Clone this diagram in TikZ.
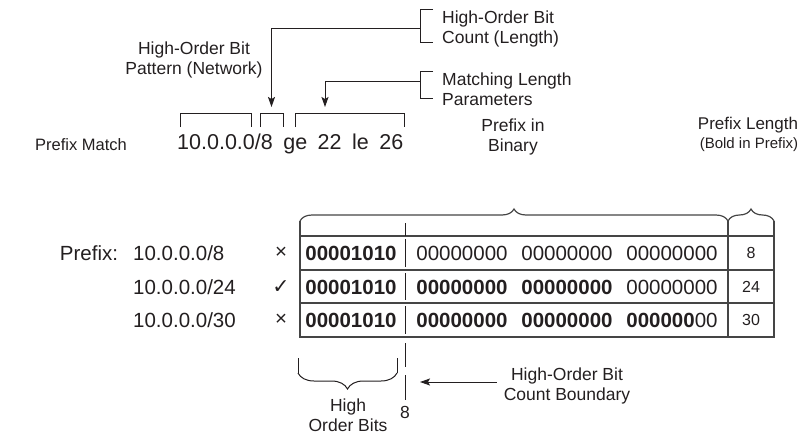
\documentclass[tikz,border=0pt]{standalone}
\usepackage{fontspec}
\setmainfont{Liberation Sans}
\newfontfamily\symfont{DejaVu Sans}
\usetikzlibrary{arrows.meta, decorations.pathreplacing}
\definecolor{ink}{HTML}{231F20}
\definecolor{rule}{HTML}{454545}
\newcommand\nomatch{×}
\newcommand\okmatch{{\symfont ✓}}
\newcommand\wsp{\hspace{10.5pt}}

\begin{document}
\begin{tikzpicture}[x=1pt, y=-1pt,
    every node/.style={inner sep=0pt, text=ink},
    lbl/.style={font=\fontsize{17.5}{20.5}\selectfont, align=center},
    big/.style={font=\fontsize{21.5}{24}\selectfont},
    bits/.style={font=\fontsize{20.5}{24}\selectfont},
    bitsb/.style={font=\fontsize{20.5}{24}\selectfont\bfseries},
    small/.style={font=\fontsize{16}{19}\selectfont},
    wire/.style={draw=ink, line width=1pt},
    arr/.style={wire, -{Stealth[length=10pt, width=7pt, inset=2pt]}},
    grid/.style={draw=rule, line width=1.2pt},
    tbrace/.style={grid, decorate, decoration={brace, amplitude=12pt}},
  ]
  \useasboundingbox (0,0) rectangle (806,436);

  % prefix-list entry and its parts
  \node[lbl, font=\fontsize{16.5}{20}\selectfont, anchor=west] (pmatch) at (35,145) {Prefix Match};
  \node[big, anchor=base west] (entry) at (177,149.5) {10.0.0.0/8\wsp ge\wsp 22\wsp le\wsp 26};
  \draw[wire] (180,127) |- (251,113) -- (251,127);
  \draw[wire] (260,127) |- (283,113) -- (283,127);
  \draw[wire] (295,127) |- (404,113) -- (404,127);
  \coordinate (lentip) at (271.5,107);
  \coordinate (getip) at (325,107);

  \node[lbl] (pattern) at (194,60) {High-Order Bit\\Pattern (Network)};
  \node[lbl, align=left, anchor=west] (hobcount) at (442,29) {High-Order Bit\\Count (Length)};
  \node[lbl, align=left, anchor=west] (matchlen) at (442,89) {Matching Length\\Parameters};
  \draw[wire] (433,10) -| (420,43) -- (433,43);
  \draw[wire] (433,72) -| (420,98) -- (433,98);
  \coordinate (cntbr) at (420,29);
  \coordinate (lenbr) at (420,82);
  \draw[arr] (cntbr) -| (lentip);
  \draw[arr] (lenbr) -| (getip);

  % table
  \node[lbl] (binlbl) at (513,137) {Prefix in\\Binary};
  \node[lbl, font=\fontsize{17}{20}\selectfont] (lenlbl) at (748,125) {Prefix Length};
  \node[small, font=\fontsize{15}{18}\selectfont] (boldlbl) at (749,145) {(Bold in Prefix)};
  \draw[tbrace] (300,221) -- (728,221);
  \draw[tbrace] (728,221) -- (774,221);
  \draw[grid] (300,221) -- (300,337) -- (774,337) -- (774,221);
  \draw[grid] (728,221) -- (728,337);
  \foreach \y in {236,270,303}
    \draw[grid] (300,\y) -- (774,\y);
  \foreach \a/\b in {223/236, 239/267, 273/300, 306/334, 343/367, 375/400}
    \draw[wire] (405,\a) -- (405,\b);

  \node[bits] (pfx) at (89,253) {Prefix:};
  \foreach \y/\len/\mk/\n in {253/8/\nomatch/1, 287/24/\okmatch/2, 320/30/\nomatch/3} {
    \node[bits, anchor=west] (net\n) at (133,\y) {10.0.0.0/\len};
    \node[bits] (mark\n) at (281,\y) {\mk};
    \node[bitsb] (hi\n) at (351,\y) {00001010};
    \node[small] (len\n) at (751,\y) {\len};
  }
  \node[bits] (b1a) at (462,253) {00000000};
  \node[bits] (b1b) at (567,253) {00000000};
  \node[bits] (b1c) at (672,253) {00000000};
  \node[bitsb] (b2a) at (462,287) {00000000};
  \node[bitsb] (b2b) at (567,287) {00000000};
  \node[bits] (b2c) at (672,287) {00000000};
  \node[bitsb] (b3a) at (462,320) {00000000};
  \node[bitsb] (b3b) at (567,320) {00000000};
  \node[bits] (b3c) at (672,320) {\textbf{000000}00};

  % boundary
  \draw[wire] (298,358) -- (298,373);
  \draw[wire] (397,358) -- (397,373);
  \draw[wire, decorate, decoration={brace, amplitude=16pt}] (397,373) -- (298,373);
  \node[lbl] (hibits) at (348,415) {High\\Order Bits};
  \node[lbl] (eight) at (405,412) {8};
  \node[lbl] (bndlbl) at (567,386) {High-Order Bit\\Count Boundary};
  \coordinate (bndtip) at (420,382);
  \draw[arr] ([xshift=-7pt, yshift=4pt]bndlbl.west) -- (bndtip);
\end{tikzpicture}
\end{document}
